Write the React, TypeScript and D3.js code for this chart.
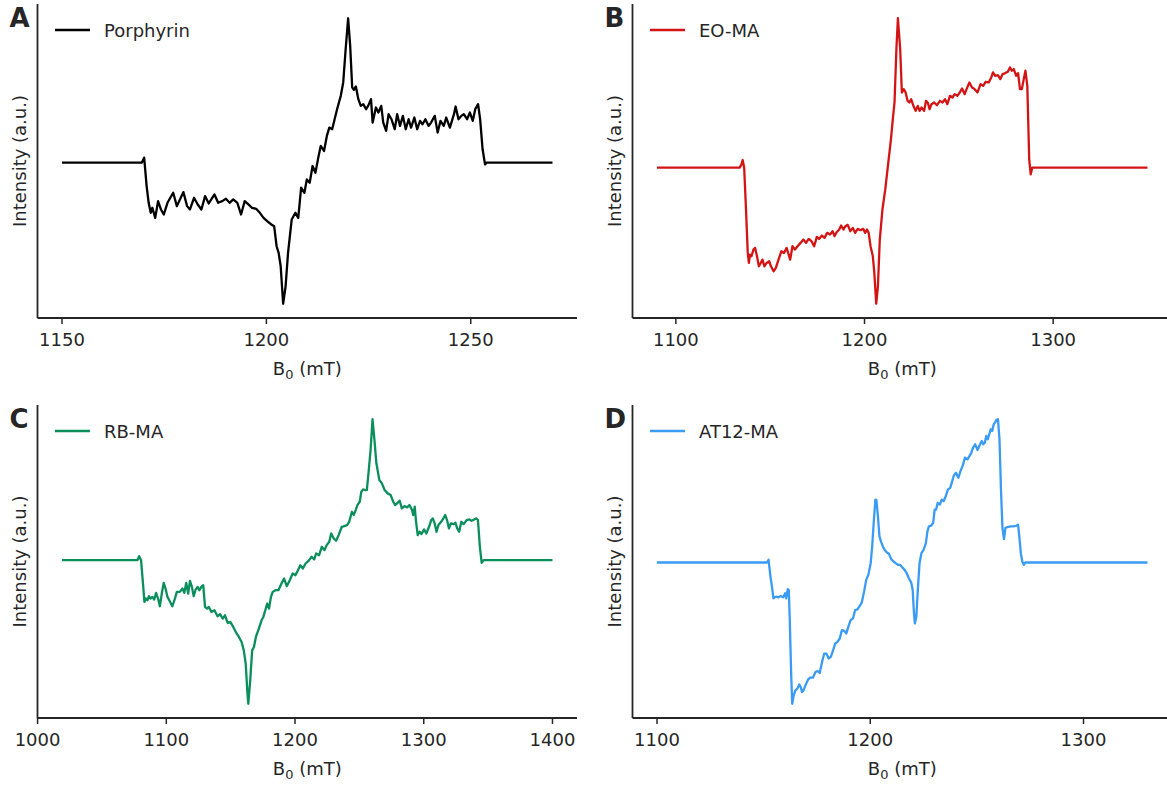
import React from "react";
import * as d3 from "d3";

// ---------- Data (B0 in mT, intensity in a.u. relative to baseline) ----------
const porphyrinField = [1150, 1169.5, 1170.1, 1170.7, 1171.2, 1171.7, 1172.1, 1172.8, 1173.5, 1174.2, 1174.9, 1175.8, 1177.2, 1178.1, 1179.7, 1180.6, 1181.3, 1182.3, 1183.2, 1184.1, 1185.0, 1185.9, 1187.3, 1188.2, 1189.2, 1190.1, 1191.0, 1191.9, 1192.9, 1193.8, 1194.7, 1195.6, 1196.5, 1197.5, 1198.4, 1199.3, 1200.2, 1201.2, 1201.9, 1202.5, 1203.0, 1203.5, 1204.1, 1204.7, 1205.3, 1206.2, 1207.1, 1207.8, 1208.5, 1209.3, 1209.9, 1210.6, 1211.3, 1212.0, 1212.7, 1213.3, 1214.1, 1214.8, 1215.4, 1216.1, 1216.8, 1217.3, 1218.2, 1218.8, 1219.4, 1220.0, 1220.5, 1221.0, 1221.4, 1221.9, 1222.5, 1223.1, 1223.7, 1224.4, 1224.9, 1225.6, 1226.0, 1226.8, 1227.4, 1228.1, 1228.6, 1229.3, 1229.9, 1230.6, 1231.4, 1232.0, 1232.7, 1233.4, 1234.1, 1234.8, 1235.4, 1236.2, 1236.9, 1237.6, 1238.2, 1238.9, 1239.7, 1240.3, 1241.2, 1241.9, 1242.6, 1243.4, 1244.0, 1244.9, 1245.9, 1246.3, 1247.0, 1247.7, 1248.3, 1249.1, 1249.8, 1250.5, 1251.1, 1251.8, 1252.3, 1252.9, 1253.5, 1253.9, 1270];
const porphyrinIntensity = [0, 0, 15, -70, -120, -150, -135, -165, -115, -140, -155, -120, -90, -130, -88, -130, -140, -105, -125, -140, -100, -122, -95, -120, -115, -108, -120, -110, -120, -155, -115, -125, -135, -138, -150, -165, -175, -185, -190, -250, -270, -310, -422, -370, -270, -170, -150, -165, -75, -90, -50, -60, -10, -30, 15, 50, 35, 80, 105, 100, 135, 160, 200, 240, 340, 432, 350, 225, 218, 228, 190, 170, 175, 160, 170, 190, 120, 165, 150, 170, 120, 95, 145, 130, 100, 145, 110, 140, 100, 130, 105, 135, 100, 125, 115, 130, 110, 120, 140, 90, 125, 110, 135, 105, 145, 168, 130, 140, 145, 130, 150, 125, 160, 175, 130, 40, -5, 0, 0];

const eoField = [1090, 1133.8, 1134.8, 1135.4, 1136.2, 1137.1, 1138.1, 1138.7, 1139.3, 1140.1, 1141.1, 1142.0, 1143.0, 1144.0, 1145.0, 1145.9, 1146.9, 1148.1, 1149.5, 1150.4, 1151.8, 1153.0, 1154.4, 1155.9, 1157.3, 1158.7, 1159.8, 1160.6, 1161.8, 1163.1, 1164.5, 1166.1, 1167.6, 1169.0, 1170.4, 1171.9, 1173.3, 1174.7, 1175.9, 1177.4, 1178.8, 1180.2, 1181.7, 1183.1, 1184.1, 1185.2, 1186.6, 1187.6, 1188.8, 1189.9, 1191.1, 1192.5, 1193.8, 1195.0, 1196.4, 1197.8, 1199.3, 1200.3, 1201.3, 1202.2, 1203.2, 1204.4, 1205.2, 1206.2, 1207.1, 1208.1, 1209.5, 1211.0, 1212.6, 1214.0, 1215.0, 1215.9, 1216.9, 1217.7, 1218.9, 1219.8, 1220.8, 1221.8, 1222.8, 1223.8, 1224.7, 1225.9, 1227.1, 1228.2, 1229.2, 1230.2, 1231.6, 1232.6, 1233.5, 1234.5, 1235.5, 1236.9, 1238.4, 1240.0, 1241.3, 1242.7, 1243.9, 1245.3, 1246.6, 1247.8, 1249.2, 1250.5, 1251.7, 1253.1, 1254.1, 1255.6, 1257.0, 1258.4, 1259.9, 1261.5, 1262.9, 1264.2, 1265.8, 1267.2, 1268.1, 1269.3, 1270.7, 1272.0, 1273.2, 1274.6, 1276.0, 1277.1, 1278.1, 1279.1, 1280.4, 1281.4, 1282.4, 1283.4, 1284.4, 1285.3, 1286.3, 1287.3, 1288.1, 1288.9, 1350];
const eoIntensity = [0, 0, 10, 23, 0, -115, -255, -285, -260, -265, -245, -240, -265, -295, -285, -275, -295, -285, -280, -295, -310, -300, -275, -250, -255, -240, -260, -275, -235, -245, -235, -225, -215, -225, -213, -220, -235, -207, -213, -203, -210, -195, -200, -190, -205, -193, -185, -173, -185, -175, -171, -190, -180, -195, -183, -187, -183, -195, -185, -195, -235, -265, -315, -407, -355, -215, -125, -65, 15, 85, 145, 195, 355, 447, 355, 225, 235, 225, 200, 195, 205, 185, 170, 185, 170, 180, 170, 200, 195, 175, 190, 195, 187, 200, 195, 205, 190, 215, 210, 220, 215, 225, 237, 220, 235, 255, 240, 235, 225, 250, 245, 257, 255, 270, 285, 275, 277, 265, 280, 283, 287, 300, 290, 295, 275, 283, 235, 235, 265, 290, 245, 25, -20, 0, 0];

const rbField = [1019, 1077.5, 1078.9, 1080.4, 1081.9, 1083.0, 1084.2, 1085.4, 1086.5, 1087.7, 1089.2, 1090.6, 1092.1, 1093.6, 1095.0, 1096.5, 1098.0, 1099.4, 1100.9, 1102.3, 1104.7, 1106.7, 1108.2, 1110.5, 1112.6, 1114.0, 1115.5, 1117.0, 1118.4, 1119.9, 1121.3, 1122.8, 1124.3, 1125.7, 1127.2, 1128.7, 1130.1, 1131.6, 1133.0, 1135.1, 1137.4, 1139.8, 1141.8, 1143.9, 1145.6, 1147.7, 1149.7, 1152.0, 1154.4, 1156.4, 1158.5, 1160.2, 1161.7, 1162.9, 1163.7, 1165.2, 1166.7, 1168.1, 1169.6, 1171.9, 1174.0, 1175.4, 1176.9, 1178.4, 1179.8, 1181.3, 1182.7, 1184.8, 1187.1, 1189.5, 1191.5, 1193.6, 1195.9, 1198.2, 1200.3, 1202.3, 1204.1, 1206.1, 1208.2, 1210.5, 1212.9, 1214.9, 1216.4, 1218.7, 1220.8, 1222.8, 1224.6, 1226.6, 1228.1, 1230.1, 1231.9, 1233.9, 1236.3, 1238.3, 1240.4, 1242.1, 1244.2, 1245.6, 1247.1, 1248.5, 1250.3, 1251.5, 1252.9, 1254.4, 1255.8, 1257.3, 1258.8, 1260.2, 1261.7, 1263.2, 1265.5, 1267.5, 1269.6, 1271.9, 1274.3, 1276.3, 1277.8, 1279.2, 1281.3, 1283.0, 1285.1, 1287.1, 1288.9, 1290.9, 1291.8, 1293.0, 1293.9, 1295.3, 1296.8, 1298.2, 1300.3, 1302.0, 1304.1, 1305.8, 1307.0, 1308.5, 1309.9, 1311.4, 1313.5, 1315.2, 1316.7, 1318.1, 1319.6, 1321.1, 1323.1, 1324.6, 1326.0, 1327.5, 1329.2, 1331.0, 1333.3, 1335.4, 1337.1, 1339.2, 1340.9, 1342.1, 1343.6, 1345.0, 1346.5, 1400];
const rbIntensity = [0, 0, 12, 0, -70, -125, -115, -120, -108, -115, -110, -118, -98, -115, -138, -100, -68, -85, -110, -120, -138, -115, -95, -95, -85, -98, -68, -100, -62, -80, -108, -88, -80, -90, -80, -75, -140, -145, -140, -155, -150, -168, -162, -175, -165, -188, -185, -200, -218, -230, -245, -270, -310, -390, -430, -360, -270, -260, -230, -205, -180, -170, -150, -130, -145, -110, -95, -90, -90, -70, -55, -78, -60, -40, -45, -30, -15, -25, -10, -2, 10, 2, 20, 15, 40, 30, 45, 55, 80, 65, 58, 75, 100, 102, 105, 115, 145, 135, 150, 165, 175, 205, 212, 210, 210, 270, 335, 422, 360, 290, 240, 230, 210, 200, 195, 175, 165, 170, 178, 155, 162, 158, 165, 150, 135, 160, 120, 75, 85, 78, 92, 80, 100, 120, 125, 110, 85, 105, 115, 125, 135, 120, 95, 110, 108, 112, 95, 85, 115, 108, 120, 122, 118, 122, 125, 120, 40, -8, 0, 0];

const atField = [1100, 1151.5, 1152.3, 1153.2, 1154.1, 1154.6, 1155.8, 1157.0, 1158.0, 1159.2, 1160.1, 1160.6, 1161.3, 1161.8, 1162.3, 1162.9, 1163.4, 1164.1, 1164.9, 1165.8, 1166.7, 1167.4, 1168.0, 1168.7, 1169.6, 1170.8, 1171.8, 1173.1, 1174.3, 1175.3, 1176.3, 1177.4, 1178.4, 1179.4, 1180.5, 1181.5, 1182.6, 1183.6, 1184.6, 1185.7, 1186.7, 1187.7, 1188.8, 1189.8, 1190.8, 1191.9, 1192.9, 1194.0, 1195.0, 1196.0, 1197.1, 1198.1, 1199.1, 1200.2, 1200.9, 1201.6, 1202.4, 1202.9, 1203.6, 1204.3, 1205.0, 1205.9, 1206.7, 1207.8, 1208.8, 1209.8, 1210.9, 1211.9, 1213.0, 1214.0, 1215.0, 1216.1, 1217.1, 1218.1, 1219.2, 1219.9, 1220.4, 1220.9, 1221.6, 1222.3, 1223.1, 1224.0, 1225.0, 1226.1, 1226.8, 1227.5, 1228.5, 1229.5, 1230.2, 1230.9, 1231.6, 1232.6, 1233.5, 1234.4, 1235.4, 1236.4, 1237.5, 1238.2, 1239.2, 1240.2, 1241.3, 1242.3, 1243.4, 1244.4, 1245.6, 1246.5, 1247.3, 1248.2, 1249.2, 1250.3, 1251.3, 1252.3, 1253.0, 1253.7, 1254.4, 1255.1, 1255.8, 1256.5, 1257.2, 1257.9, 1258.5, 1259.2, 1259.9, 1260.6, 1261.3, 1262.0, 1262.7, 1263.4, 1264.4, 1265.8, 1267.2, 1268.6, 1269.3, 1269.9, 1270.6, 1271.3, 1272.0, 1272.7, 1330];
const atIntensity = [0, 0, 8, -42, -82, -107, -102, -104, -100, -104, -92, -107, -80, -82, -182, -332, -422, -397, -382, -377, -364, -372, -387, -382, -367, -350, -344, -344, -327, -324, -330, -297, -272, -272, -287, -282, -262, -242, -237, -227, -202, -204, -212, -190, -172, -167, -142, -140, -130, -120, -87, -52, -37, -2, 48, 118, 188, 186, 138, 78, 63, 48, 38, 30, 26, 10, 3, -2, -7, -7, -14, -22, -32, -47, -60, -82, -142, -182, -162, -82, -2, 28, 38, 58, 93, 108, 110, 118, 158, 158, 178, 173, 188, 183, 198, 218, 223, 238, 260, 268, 253, 273, 290, 313, 308, 318, 326, 343, 353, 336, 350, 363, 353, 358, 378, 368, 383, 398, 393, 413, 418, 426, 428, 368, 218, 103, 70, 103, 106, 108, 108, 110, 113, 78, 28, 3, -7, 0, 0];

const ticksA = [1150, 1200, 1250];
const ticksB = [1100, 1200, 1300];
const ticksC = [1000, 1100, 1200, 1300, 1400];
const ticksD = [1100, 1200, 1300];

const panelLetters = ["A", "B", "C", "D"];
const seriesNames = ["Porphyrin", "EO-MA", "RB-MA", "AT12-MA"];
const seriesColors = ["#000000", "#d41414", "#0a8f5c", "#3a9bf4"];

// ---------- Layout ----------
const W = 1167;
const H = 785;
const panelW = 539.5;
const layouts = [
  { left: 37.5, top: 4, height: 314 },
  { left: 632.5, top: 4, height: 314 },
  { left: 37.5, top: 405, height: 313 },
  { left: 632.5, top: 405, height: 313 },
];
const TEXT = "#262626";
const FONT = "'DejaVu Sans', sans-serif";
const FS = 18;

function padded(ext: [number, number]): [number, number] {
  const r = ext[1] - ext[0];
  return [ext[0] - 0.05 * r, ext[1] + 0.05 * r];
}

type PanelProps = {
  idx: number;
  field: number[];
  intensity: number[];
  ticks: number[];
};

function Panel({ idx, field, intensity, ticks }: PanelProps) {
  const { left, top, height } = layouts[idx];
  const xDom = padded(d3.extent(field) as [number, number]);
  const yDom = padded(d3.extent(intensity) as [number, number]);
  const x = d3.scaleLinear().domain(xDom).range([left, left + panelW]);
  const y = d3.scaleLinear().domain(yDom).range([top + height, top]);
  const pts: [number, number][] = field.map((f, i) => [f, intensity[i]]);
  const line = d3
    .line<[number, number]>()
    .x((d) => x(d[0]))
    .y((d) => y(d[1]));
  const bottom = top + height;
  const color = seriesColors[idx];
  const cx = left + panelW / 2;
  const cy = top + height / 2;
  return (
    <g>
      <path d={line(pts) || ""} fill="none" stroke={color} strokeWidth={2.3} strokeLinejoin="round" />
      {/* spines */}
      <line x1={left} x2={left} y1={top} y2={bottom} stroke={TEXT} strokeWidth={1.8} />
      <line x1={left} x2={left + panelW} y1={bottom} y2={bottom} stroke={TEXT} strokeWidth={1.8} />
      {ticks.map((t) => (
        <g key={t}>
          <line x1={x(t)} x2={x(t)} y1={bottom} y2={bottom + 6} stroke={TEXT} strokeWidth={1.5} />
          <text
            x={x(t)}
            y={bottom + 28}
            textAnchor="middle"
            fontFamily={FONT}
            fontSize={FS}
            fill={TEXT}
          >
            {t}
          </text>
        </g>
      ))}
      <text x={cx} y={bottom + 57} textAnchor="middle" fontFamily={FONT} fontSize={FS} fill={TEXT}>
        B<tspan fontSize={FS * 0.72} dy={4}>0</tspan>
        <tspan dy={-4}> (mT)</tspan>
      </text>
      <text
        transform={`translate(${left - 12},${cy}) rotate(-90)`}
        textAnchor="middle"
        fontFamily={FONT}
        fontSize={FS}
        fill={TEXT}
      >
        Intensity (a.u.)
      </text>
      <text
        x={left - 28}
        y={top + 23}
        fontFamily={FONT}
        fontSize={26}
        fontWeight="bold"
        fill={TEXT}
      >
        {panelLetters[idx]}
      </text>
      {/* legend */}
      <line
        x1={left + 17.5}
        x2={left + 52.5}
        y1={top + 26}
        y2={top + 26}
        stroke={color}
        strokeWidth={2.3}
      />
      <text
        x={left + 66.5}
        y={top + 26}
        dominantBaseline="central"
        fontFamily={FONT}
        fontSize={FS}
        fill={TEXT}
      >
        {seriesNames[idx]}
      </text>
    </g>
  );
}

export default function App() {
  return (
    <svg
      width={W}
      height={H}
      style={{ position: "absolute", left: 0, top: 0, background: "#ffffff" }}
    >
      <rect width={W} height={H} fill="#ffffff" />
      <Panel idx={0} field={porphyrinField} intensity={porphyrinIntensity} ticks={ticksA} />
      <Panel idx={1} field={eoField} intensity={eoIntensity} ticks={ticksB} />
      <Panel idx={2} field={rbField} intensity={rbIntensity} ticks={ticksC} />
      <Panel idx={3} field={atField} intensity={atIntensity} ticks={ticksD} />
    </svg>
  );
}
